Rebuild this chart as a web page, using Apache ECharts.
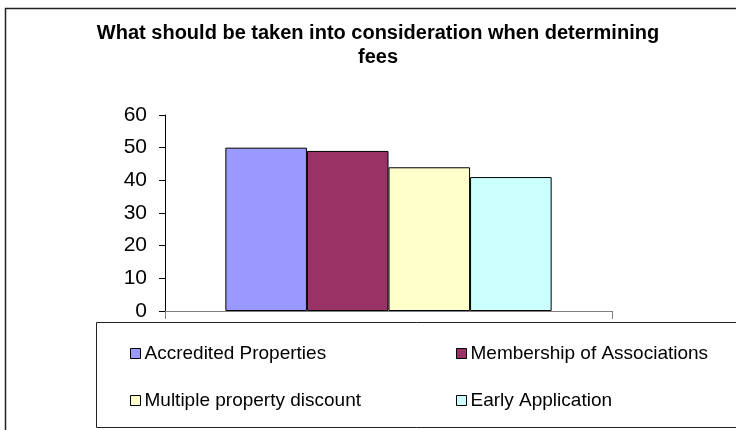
<!DOCTYPE html>
<html>
<head>
<meta charset="utf-8">
<script src="https://cdn.jsdelivr.net/npm/echarts@6/dist/echarts.min.js"></script>
<style>html,body{margin:0;padding:0;background:#fff;}#c{width:736px;height:430px;}</style>
</head>
<body>
<div id="c"></div>
<script>
var titleText = 'What should be taken into consideration when determining\nfees';
var categories = [''];
var seriesNames = ['Accredited Properties', 'Membership of Associations', 'Multiple property discount', 'Early Application'];
var seriesValues = [50, 49, 44, 41];
var seriesColors = ['#9999FF', '#993366', '#FFFFCC', '#CCFFFF'];
var yTicks = [0, 10, 20, 30, 40, 50, 60];

var chart = echarts.init(document.getElementById('c'), null, {renderer: 'canvas'});
var FONT = 'Liberation Sans, Arial, sans-serif';

var series = seriesNames.map(function (n, i) {
  return {
    name: n,
    type: 'bar',
    data: [seriesValues[i]],
    barGap: '0%',
    barCategoryGap: '27%',
    itemStyle: {color: seriesColors[i], borderColor: '#000', borderWidth: 1},
    emphasis: {disabled: true}
  };
});

var legendCommon = {
  orient: 'vertical',
  itemWidth: 10,
  itemHeight: 10,
  itemGap: 28,
  icon: 'rect',
  textStyle: {fontFamily: FONT, fontSize: 19, color: '#000', padding: [0, 0, 0, -1]},
  itemStyle: {borderColor: '#000', borderWidth: 1},
  selectedMode: false
};

chart.setOption({
  animation: false,
  backgroundColor: '#fff',
  title: {
    text: titleText,
    left: 378,
    top: 21,
    padding: 0,
    textAlign: 'center',
    textStyle: {fontFamily: FONT, fontWeight: 'bold', fontSize: 20, color: '#000', lineHeight: 24}
  },
  legend: [
    Object.assign({}, legendCommon, {left: 125, top: 339, data: [seriesNames[0], seriesNames[2]]}),
    Object.assign({}, legendCommon, {left: 451, top: 339, data: [seriesNames[1], seriesNames[3]]})
  ],
  grid: {left: 165, right: 124, top: 115, bottom: 119, containLabel: false},
  xAxis: {
    type: 'category',
    data: categories,
    axisLine: {lineStyle: {color: '#808080', width: 1}},
    axisTick: {show: true, length: 8, lineStyle: {color: '#808080'}},
    axisLabel: {show: false}
  },
  yAxis: {
    type: 'value',
    min: yTicks[0],
    max: yTicks[yTicks.length - 1],
    interval: 10,
    axisLine: {show: true, lineStyle: {color: '#000', width: 1}},
    axisTick: {show: true, length: 6, lineStyle: {color: '#000'}},
    axisLabel: {fontFamily: FONT, fontSize: 21, color: '#000', margin: 18},
    splitLine: {show: false}
  },
  graphic: [
    {type: 'rect', shape: {x: 5.5, y: 8.5, width: 760, height: 460}, style: {fill: null, stroke: '#222', lineWidth: 1.5}, silent: true, z: 100},
    {type: 'rect', shape: {x: 96.5, y: 322.5, width: 700, height: 105}, style: {fill: null, stroke: '#222', lineWidth: 1}, silent: true, z: 100}
  ],
  series: series
});
</script>
</body>
</html>
